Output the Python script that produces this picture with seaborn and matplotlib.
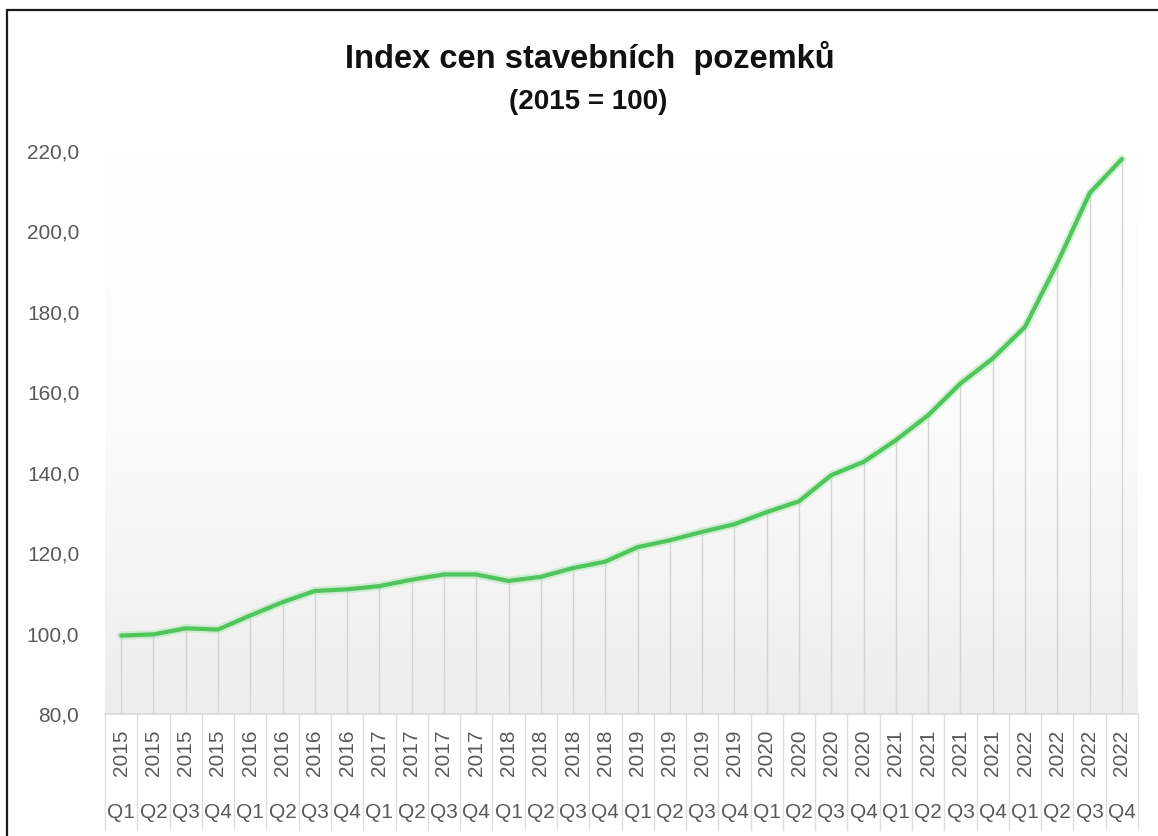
import numpy as np
import pandas as pd
import matplotlib
matplotlib.use("Agg")
import matplotlib.pyplot as plt
import matplotlib.transforms as mtransforms
from matplotlib.lines import Line2D
import seaborn as sns

# Quarterly building-land price index, 2015 = 100
years = ["2015"] * 4 + ["2016"] * 4 + ["2017"] * 4 + ["2018"] * 4 + \
        ["2019"] * 4 + ["2020"] * 4 + ["2021"] * 4 + ["2022"] * 4
quarters = ["Q1", "Q2", "Q3", "Q4"] * 8
index_values = [
    99.5, 99.8, 101.3, 101.0,
    104.5, 107.8, 110.6, 111.0,
    111.8, 113.4, 114.7, 114.7,
    113.1, 114.1, 116.3, 117.9,
    121.5, 123.2, 125.3, 127.2,
    130.2, 132.9, 139.4, 142.7,
    148.1, 154.3, 162.2, 168.4,
    176.3, 192.1, 209.5, 218.0,
]
y_ticks = [80, 100, 120, 140, 160, 180, 200, 220]

title = "Index cen stavebních  pozemků"
subtitle = "(2015 = 100)"

df = pd.DataFrame({
    "pos": np.arange(len(index_values)),
    "year": years,
    "quarter": quarters,
    "value": index_values,
})

sns.set_theme(style="white")
plt.rcParams["font.family"] = ["Liberation Sans", "DejaVu Sans"]

W, H = 1158, 836
fig = plt.figure(figsize=(W / 100, H / 100), dpi=100)
fig.patch.set_facecolor("white")

# plot area in pixel coordinates
left_px, right_px, top_px, bottom_px = 105, 1138, 151, 714
ax = fig.add_axes([left_px / W, 1 - bottom_px / H,
                   (right_px - left_px) / W, (bottom_px - top_px) / H])

n = len(df)
ax.set_xlim(-0.5, n - 0.5)
ax.set_ylim(y_ticks[0], y_ticks[-1])

# vertical gradient fill of the plot area (white at top, light grey at bottom)
grad = np.linspace(0, 1, 256).reshape(-1, 1)
cmap = matplotlib.colors.LinearSegmentedColormap.from_list(
    "bg", ["#ffffff", "#fbfbfb", "#ededed"])
ax.imshow(grad, aspect="auto", cmap=cmap, origin="upper",
          extent=(-0.5, n - 0.5, y_ticks[0], y_ticks[-1]), zorder=0)

# drop lines from each point down to the axis
ax.vlines(df["pos"], y_ticks[0], df["value"], color="#d4d4d4", lw=1.0, zorder=1)

# soft halo under the main line
ax.plot(df["pos"], df["value"], color="#a8e6ae", lw=6.0, alpha=0.5,
        solid_capstyle="round", solid_joinstyle="round", zorder=2)
sns.lineplot(data=df, x="pos", y="value", color="#4fc55c", lw=3.0,
             sort=False, ax=ax, zorder=3)
for ln in ax.get_lines():
    ln.set_solid_joinstyle("round")
    ln.set_solid_capstyle("round")

# y axis
ax.set_yticks(y_ticks)
ax.set_yticklabels([f"{v:.1f}".replace(".", ",") for v in y_ticks],
                   fontsize=15, color="#595959")
ax.tick_params(axis="y", length=0, pad=18.5)
ax.set_xticks([])
ax.set_xlabel("")
ax.set_ylabel("")
for s in ax.spines.values():
    s.set_visible(False)

# category table below the plot area
trans = mtransforms.blended_transform_factory(ax.transData, ax.transAxes)
plot_h = bottom_px - top_px
table_bottom = -(830 - bottom_px) / plot_h
year_y = -(753 - bottom_px) / plot_h
q_y = -(812 - bottom_px) / plot_h

ax.add_line(Line2D([-0.5, n - 0.5], [0, 0], transform=trans,
                   color="#d9d9d9", lw=1.2, clip_on=False, zorder=4))
for b in np.arange(-0.5, n, 1.0):
    ax.add_line(Line2D([b, b], [0, table_bottom], transform=trans,
                       color="#dedede", lw=1.0, clip_on=False))
for p, yr, q in zip(df["pos"], df["year"], df["quarter"]):
    ax.text(p, year_y, yr, transform=trans, rotation=90, ha="center",
            va="center", fontsize=15, color="#595959")
    ax.text(p, q_y, q, transform=trans, ha="center", va="center",
            fontsize=15, color="#595959")

# titles
fig.text(590 / W, 1 - 58 / H, title, ha="center", va="center",
         fontsize=23.5, fontweight="bold", color="#111111")
fig.text(588 / W, 1 - 102 / H, subtitle, ha="center",
         va="center", fontsize=20, fontweight="bold", color="#111111")

# outer frame (top and left edges)
fig.add_artist(Line2D([7 / W, 1.0], [1 - 10 / H, 1 - 10 / H],
                      transform=fig.transFigure, color="#1a1a1a", lw=1.6))
fig.add_artist(Line2D([7 / W, 7 / W], [0.0, 1 - 10 / H],
                      transform=fig.transFigure, color="#1a1a1a", lw=1.6))

fig.savefig("out.png", dpi=100, facecolor="white")
